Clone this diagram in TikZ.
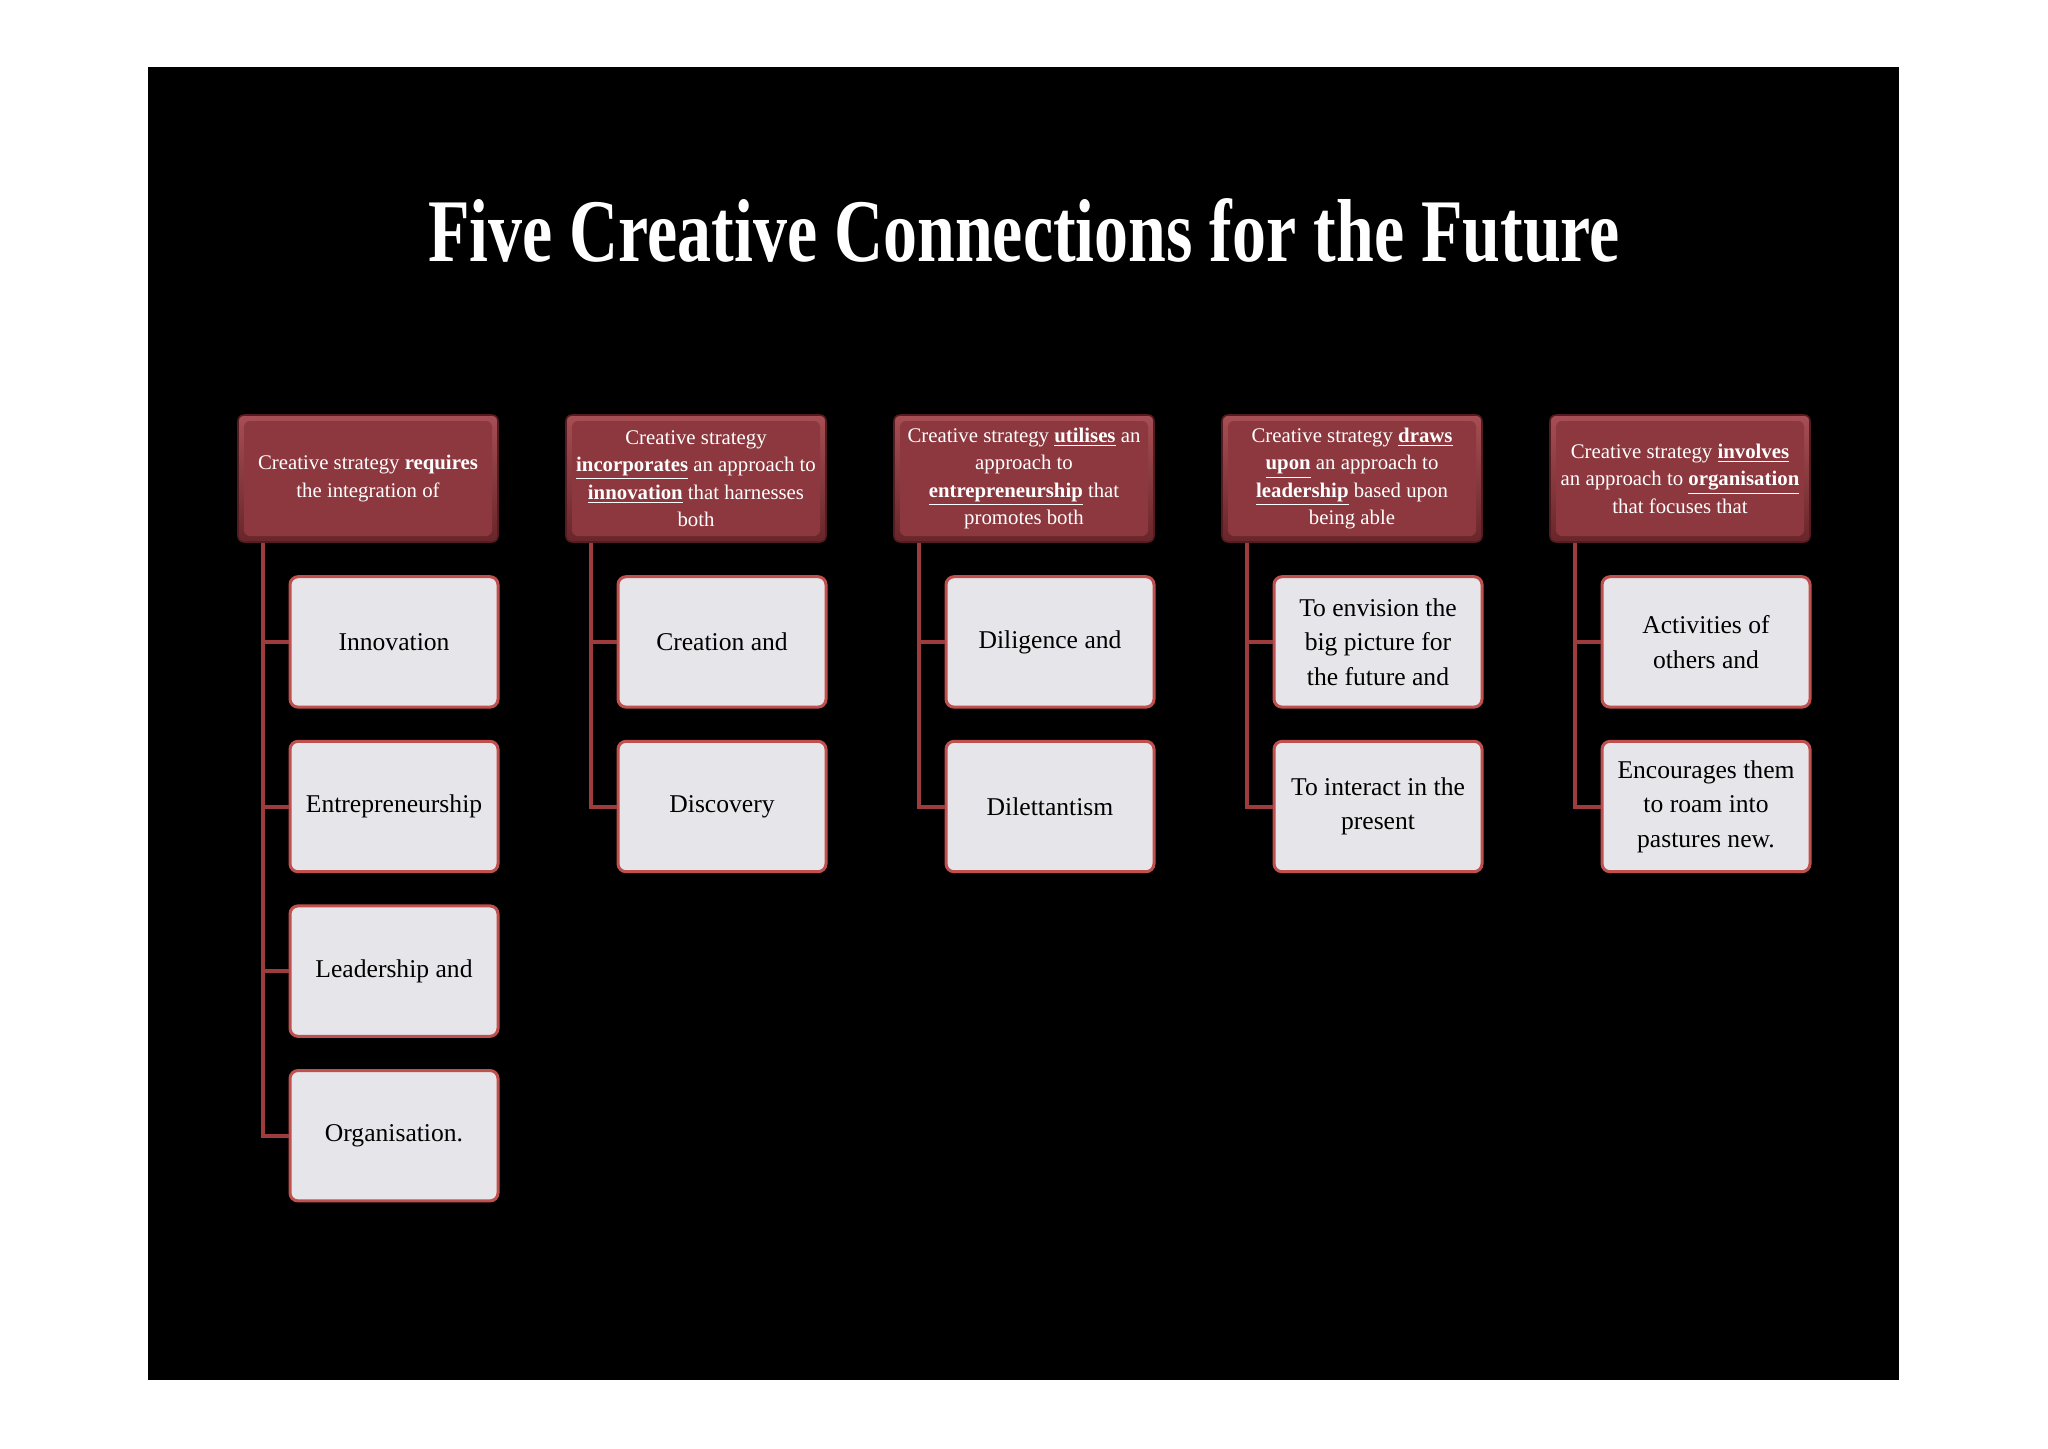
\documentclass[tikz,border=0pt]{standalone}
\usepackage{fontspec}
\setmainfont{Liberation Serif}
\newfontfamily\titlefont[FakeStretch=0.76]{Liberation Serif}
\usetikzlibrary{positioning}
\definecolor{hdrred}{RGB}{140,56,62}
\definecolor{hdrlight}{RGB}{166,78,84}
\definecolor{hdrdark}{RGB}{104,38,42}
\definecolor{hdrline}{RGB}{84,28,32}
\definecolor{itemfill}{RGB}{230,229,233}
\definecolor{itemline}{RGB}{192,80,77}
\definecolor{linkred}{RGB}{156,60,60}
\newcommand{\key}[1]{\underline{\textbf{#1}}}
\tikzstyle{header} = [draw=hdrline, line width=0.8pt, top color=hdrlight, bottom color=hdrdark, rounded corners=3pt, minimum width=130pt, minimum height=63.5pt, inner sep=0pt, align=center, text=white, font=\fontsize{10.4}{13.7}\selectfont,
  path picture={\fill[hdrred] ([shift={(3pt,-3pt)}]path picture bounding box.north west) rectangle ([shift={(-3pt,3pt)}]path picture bounding box.south east);}]
\tikzstyle{item} = [draw=itemline, line width=1.5pt, fill=itemfill, rounded corners=4pt, minimum width=104pt, minimum height=65.2pt, inner sep=0pt, align=center, font=\fontsize{12.8}{17.3}\selectfont]
\tikzstyle{link} = [draw=linkred, line width=2pt]
\tikzstyle{title} = [text=white, anchor=base, font=\titlefont\bfseries\fontsize{44.7}{50}\selectfont]

\begin{document}
\begin{tikzpicture}[x=0.5pt, y=-0.5pt]
\useasboundingbox (0,0) rectangle (2048,1448);
\fill[white] (0,0) rectangle (2048,1448);
\fill[black] (148,67) rectangle (1899,1380);

\node[title] (title) at (1024,261) {Five Creative Connections for the Future};

% headers
\node[header] (h1) at (368,478.5) {Creative strategy \textbf{requires}\\ the integration of};
\node[header] (h2) at (696,478.5) {Creative strategy\\ \key{incorporates} an approach to\\ \key{innovation} that harnesses\\ both};
\node[header] (h3) at (1024,478.5) {Creative strategy \key{utilises} an\\ approach to\\ \key{entrepreneurship} that\\ promotes both};
\node[header] (h4) at (1352,478.5) {Creative strategy \key{draws}\\ \key{upon} an approach to\\ \key{leadership} based upon\\ being able};
\node[header] (h5) at (1680,478.5) {Creative strategy \key{involves}\\ an approach to \key{organisation}\\ that focuses that};

% items
\node[item, below=16.2pt of h1, xshift=13pt] (c11) {Innovation};
\node[item, below=15.6pt of c11] (c12) {Entrepreneurship};
\node[item, below=15.6pt of c12] (c13) {Leadership and};
\node[item, below=15.6pt of c13] (c14) {Organisation.};

\node[item, below=16.2pt of h2, xshift=13pt] (c21) {Creation and};
\node[item, below=15.6pt of c21] (c22) {Discovery};

\node[item, below=16.2pt of h3, xshift=13pt] (c31) {Diligence and};
\node[item, below=15.6pt of c31] (c32) {Dilettantism};

\node[item, below=16.2pt of h4, xshift=13pt] (c41) {To envision the\\ big picture for\\ the future and};
\node[item, below=15.6pt of c41] (c42) {To interact in the\\ present};

\node[item, below=16.2pt of h5, xshift=13pt] (c51) {Activities of\\ others and};
\node[item, below=15.6pt of c51] (c52) {Encourages them\\ to roam into\\ pastures new.};

% connectors
\foreach \c in {c11,c12,c13,c14}
  \draw[link] ([xshift=13pt]h1.south west) |- (\c.west);
\foreach \c in {c21,c22}
  \draw[link] ([xshift=13pt]h2.south west) |- (\c.west);
\foreach \c in {c31,c32}
  \draw[link] ([xshift=13pt]h3.south west) |- (\c.west);
\foreach \c in {c41,c42}
  \draw[link] ([xshift=13pt]h4.south west) |- (\c.west);
\foreach \c in {c51,c52}
  \draw[link] ([xshift=13pt]h5.south west) |- (\c.west);
\end{tikzpicture}
\end{document}
